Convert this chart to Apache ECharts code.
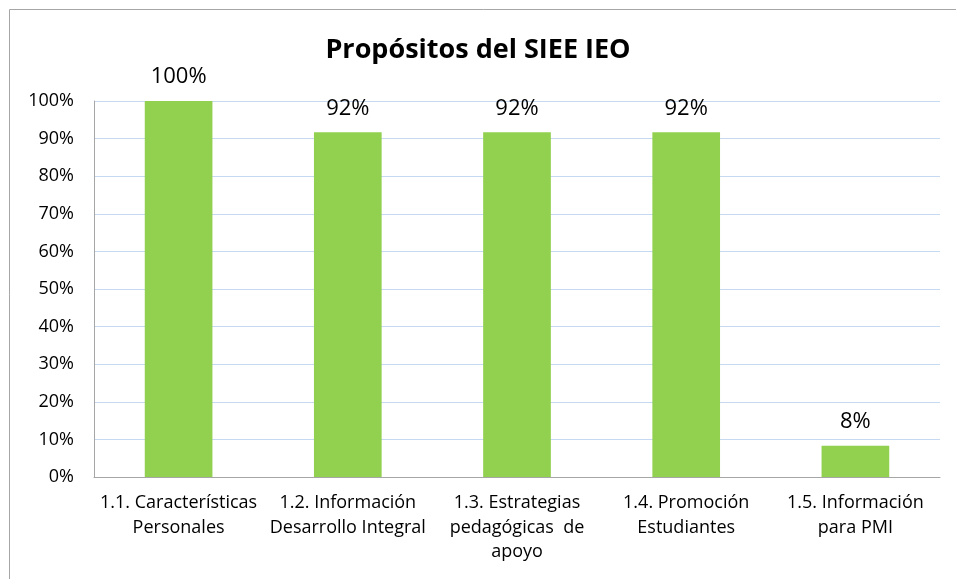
<!DOCTYPE html>
<html lang="es">
<head>
	<meta charset="utf-8">
	<title>Propósitos del SIEE IEO</title>
	<script src="https://cdn.jsdelivr.net/npm/echarts@6/dist/echarts.min.js"></script>
	<style>
		html, body { margin: 0; padding: 0; background: #fff; }
		#chart { width: 956px; height: 579px; }
	</style>
</head>
<body>
	<div id="chart"></div>

<script type="text/javascript">

	// datos
	var categorias = [
		'1.1. Características\nPersonales',
		'1.2. Información\nDesarrollo Integral',
		'1.3. Estrategias\npedagógicas  de\napoyo',
		'1.4. Promoción\nEstudiantes',
		'1.5. Información\npara PMI'
	];
	var valores = [100, 91.67, 91.67, 91.67, 8.33];
	var ticksY = [0, 10, 20, 30, 40, 50, 60, 70, 80, 90, 100];

	var fuente = '"Open Sans", "Noto Sans", sans-serif';

	window.onload = function () {
		var myChart = echarts.init(document.getElementById('chart'));
		var option = {
			animation: false,
			backgroundColor: '#fff',
			textStyle: { fontFamily: fuente },
			title: {
				text: 'Propósitos del SIEE IEO',
				left: 'center',
				top: 32,
				textStyle: { fontFamily: fuente, fontSize: 27, fontWeight: 'bold', color: '#000' }
			},
			graphic: [{
				type: 'rect',
				shape: { x: 9.5, y: 9.5, width: 1000, height: 700 },
				style: { fill: 'none', stroke: '#a6a6a6', lineWidth: 1 },
				silent: true
			}],
			grid: { left: 94, right: 16, top: 101, bottom: 102 },
			xAxis: {
				type: 'category',
				data: categorias,
				axisLine: { lineStyle: { color: '#a6a6a6', width: 1 } },
				axisTick: { show: false },
				axisLabel: {
					interval: 0,
					color: '#000',
					fontFamily: fuente,
					fontSize: 18,
					lineHeight: 24.5,
					margin: 14
				}
			},
			yAxis: {
				type: 'value',
				min: ticksY[0],
				max: ticksY[ticksY.length - 1],
				interval: 10,
				axisLine: { show: true, lineStyle: { color: '#a6a6a6', width: 1 } },
				axisTick: { show: false },
				splitLine: { lineStyle: { color: '#c6d9f1', width: 1 } },
				axisLabel: {
					color: '#000',
					fontFamily: fuente,
					fontSize: 18,
					margin: 20,
					formatter: function (v) { return v + '%'; }
				}
			},
			series: [{
				type: 'bar',
				data: valores,
				barWidth: '40%',
				itemStyle: { color: '#92d050' },
				label: {
					show: true,
					position: 'top',
					distance: 13,
					color: '#000',
					fontFamily: fuente,
					fontSize: 22,
					formatter: function (p) { return Math.round(p.value) + '%'; }
				}
			}]
		};
		myChart.setOption(option);
	};

</script>
</body>
</html>
